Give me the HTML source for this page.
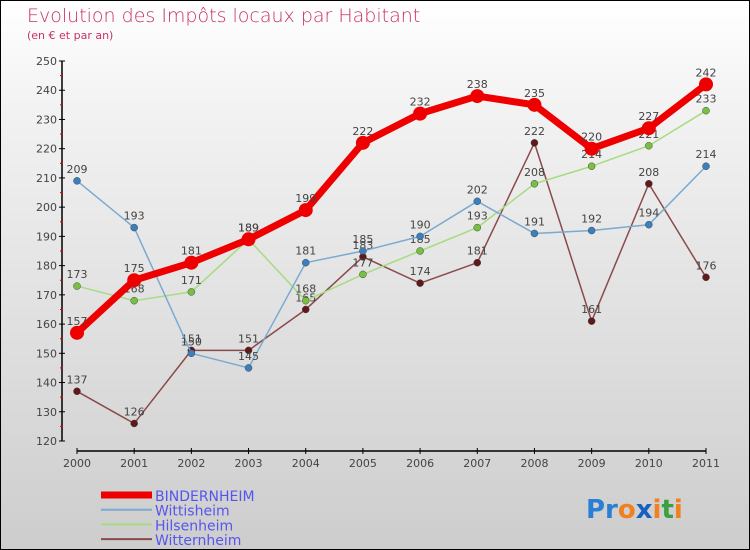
<!DOCTYPE html>
<html><head><meta charset="utf-8"><style>
body{margin:0}
#c{width:748px;height:548px;border:1px solid #000;background:linear-gradient(#fff,#f2f2f2 20%,#cdcdcd);position:relative;font-family:"DejaVu Sans","Liberation Sans",sans-serif;overflow:hidden}
svg{position:absolute;left:0;top:0}
</style></head><body>
<div id="c">
<svg id="s" width="750" height="550">
<text x="26" y="21" font-size="19" fill="#c8325f" style="font-weight:200">Evolution des Impôts locaux par Habitant</text>
<text x="26" y="38" font-size="11" fill="#c8325f">(en € et par an)</text>
<text x="585" y="517" font-size="26" font-weight="bold"><tspan fill="#2a7fd4">Pr</tspan><tspan fill="#f08020">o</tspan><tspan fill="#1560c0">x</tspan><tspan fill="#f08020">i</tspan><tspan fill="#3aa040">t</tspan><tspan fill="#f08020">i</tspan></text>
</svg>
</div>
<script>
const years=["2000","2001","2002","2003","2004","2005","2006","2007","2008","2009","2010","2011"];
const yTicks=[120,130,140,150,160,170,180,190,200,210,220,230,240,250];
const seriesNames=["BINDERNHEIM","Wittisheim","Hilsenheim","Witternheim"];
const bindernheim=[157,175,181,189,199,222,232,238,235,220,227,242];
const wittisheim=[209,193,150,145,181,185,190,202,191,192,194,214];
const hilsenheim=[173,168,171,189,168,177,185,193,208,214,221,233];
const witternheim=[137,126,151,151,165,183,174,181,222,161,208,176];
const NS="http://www.w3.org/2000/svg",s=document.getElementById('s');
const X=i=>76+i*(705-76)/(years.length-1);
const Y=v=>440-(v-120)*(380/130);
function el(t,a,p){const e=document.createElementNS(NS,t);for(const k in a)e.setAttribute(k,a[k]);(p||s).appendChild(e);return e;}
let e=el('line',{x1:61,y1:60,x2:61,y2:440,stroke:'#000','stroke-width':1.5});


yTicks.forEach(v=>{
 el('line',{x1:58,x2:64,y1:Y(v),y2:Y(v),stroke:'#000'});
 if(v<250)el('line',{x1:59,x2:62,y1:Y(v+5),y2:Y(v+5),stroke:'#d00'});
 const t=el('text',{x:56,y:Y(v)+4,'font-size':11,fill:'#444','text-anchor':'end'});
 
 
 t.textContent=v;
});
e=el('line',{x1:76,y1:450,x2:705,y2:450,stroke:'#000','stroke-width':1.5});


years.forEach((y,i)=>{
 el('line',{x1:X(i),x2:X(i),y1:447,y2:453,stroke:'#000'});
 const t=el('text',{x:X(i),y:466,'font-size':11,fill:'#444','text-anchor':'middle'});
 
 
 t.textContent=y;
});
const ser=[[witternheim,'#8a4a4a','#601818',1.5,3.5,'witternheim'],[hilsenheim,'#a6dc80','#78c040',1.5,3.5,'hilsenheim'],[wittisheim,'#7aaad0','#3a80c0',1.5,3.5,'wittisheim'],[bindernheim,'#ee0000','#ee0000',7,7,'bindernheim']];
ser.forEach(([d,lc,pc,w,r,n])=>{
 const l=el('polyline',{points:d.map((v,i)=>X(i)+','+Y(v)).join(' '),fill:'none',stroke:lc,'stroke-width':w,'stroke-linejoin':'round'});
 
 
 d.forEach((v,i)=>{
  const c=el('circle',{cx:X(i),cy:Y(v),r:r,fill:pc,stroke:w>2?'none':'#444','stroke-width':0.5});
  
  
  const t=el('text',{x:X(i),y:Y(v)-8,'font-size':11,fill:'#444','text-anchor':'middle'});
  
  
  t.textContent=v;
 });
});
const lg=[['#ee0000',7],['#7aaad0',2],['#a6dc80',2],['#8a4a4a',2]];
seriesNames.forEach((n,i)=>{
 const y=494+i*14.7;
 const l=el('line',{x1:100,x2:151,y1:y,y2:y,stroke:lg[i][0],'stroke-width':lg[i][1]});
 
 
 const t=el('text',{x:154,y:y+6,'font-size':14,fill:'#5555ee'});
 
 
 t.textContent=n;
});
</script>
</body></html>
